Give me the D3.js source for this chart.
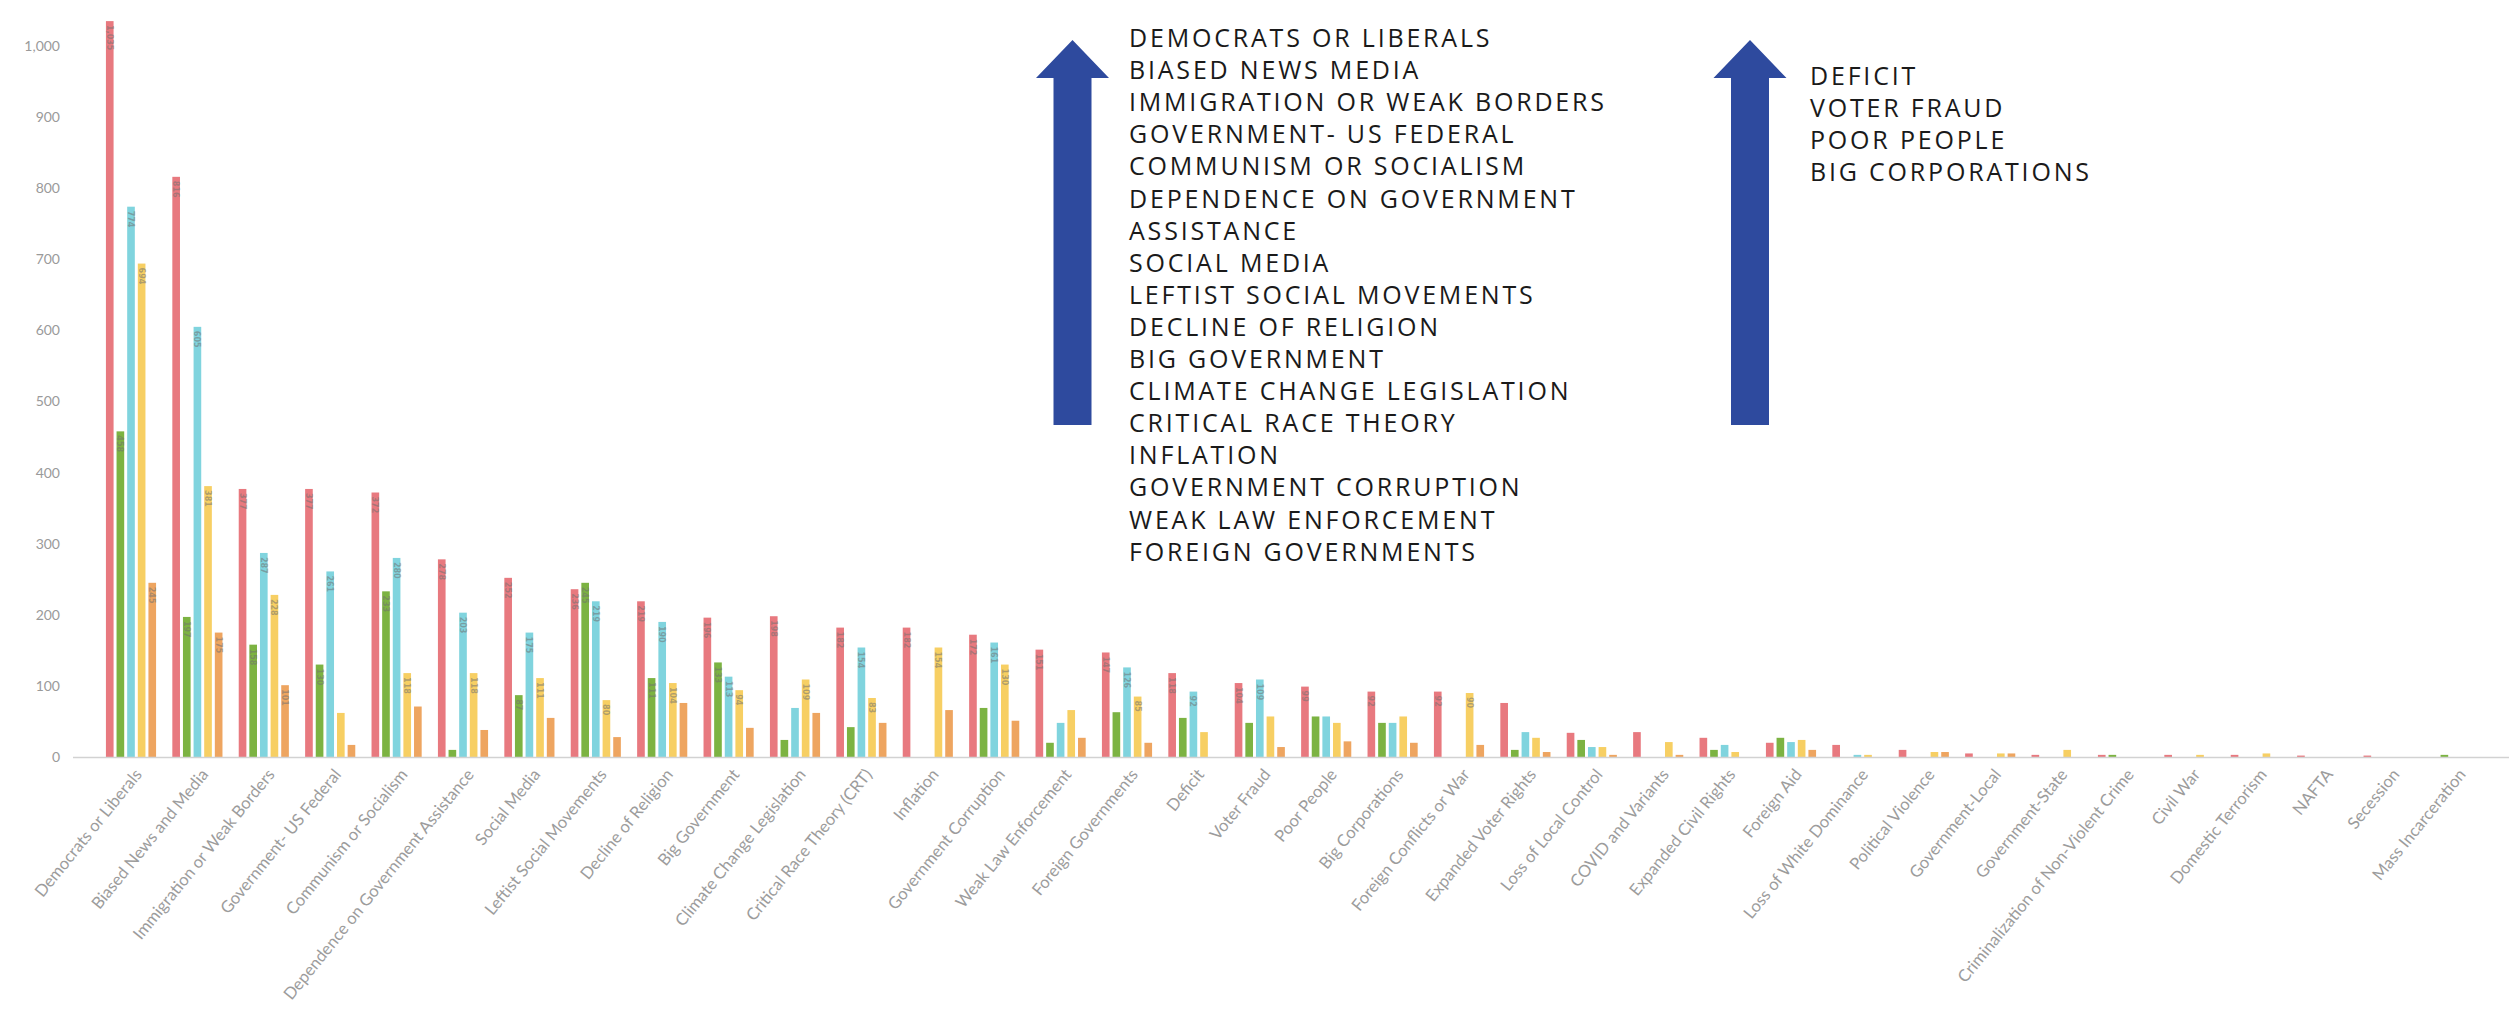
<!DOCTYPE html>
<html>
<head>
<meta charset="utf-8">
<script src="https://cdn.jsdelivr.net/npm/d3@7"></script>
<style>
  html, body { margin: 0; padding: 0; background: #ffffff; }
  svg { display: block; }
</style>
</head>
<body>
<script>
// ---------- DATA ----------
const categories = [
  "Democrats or Liberals", "Biased News and Media", "Immigration or Weak Borders",
  "Government- US Federal", "Communism or Socialism", "Dependence on Government Assistance",
  "Social Media", "Leftist Social Movements", "Decline of Religion", "Big Government",
  "Climate Change Legislation", "Critical Race Theory (CRT)", "Inflation",
  "Government Corruption", "Weak Law Enforcement", "Foreign Governments", "Deficit",
  "Voter Fraud", "Poor People", "Big Corporations", "Foreign Conflicts or War",
  "Expanded Voter Rights", "Loss of Local Control", "COVID and Variants",
  "Expanded Civil Rights", "Foreign Aid", "Loss of White Dominance", "Political Violence",
  "Government-Local", "Government-State", "Criminalization of Non-Violent Crime",
  "Civil War", "Domestic Terrorism", "NAFTA", "Secession", "Mass Incarceration"
];
const seriesNames = ["Series 1", "Series 2", "Series 3", "Series 4", "Series 5"];
const series1 = [1035, 816, 377, 377, 372, 278, 252, 236, 219, 196, 198, 182, 182, 172, 151, 147, 118, 104, 99, 92, 92, 76, 34, 35, 27, 20, 17, 10, 5, 3, 3, 3, 3, 2, 2, 0];
const series2 = [458, 197, 158, 130, 233, 10, 87, 245, 111, 133, 24, 42, 0, 69, 20, 63, 55, 48, 57, 48, 0, 10, 24, 0, 10, 27, 0, 0, 0, 0, 3, 0, 0, 0, 0, 3];
const series3 = [774, 605, 287, 261, 280, 203, 175, 219, 190, 113, 69, 154, 0, 161, 48, 126, 92, 109, 57, 48, 0, 35, 14, 0, 17, 21, 3, 0, 0, 0, 0, 0, 0, 0, 0, 0];
const series4 = [694, 381, 228, 62, 118, 118, 111, 80, 104, 94, 109, 83, 154, 130, 66, 85, 35, 57, 48, 57, 90, 27, 14, 21, 7, 24, 3, 7, 5, 10, 0, 3, 5, 0, 0, 0];
const series5 = [245, 175, 101, 17, 71, 38, 55, 28, 76, 41, 62, 48, 66, 51, 27, 20, 0, 14, 22, 20, 17, 7, 3, 3, 0, 10, 0, 7, 5, 0, 0, 0, 0, 0, 0, 0];
const yTicks = [0, 100, 200, 300, 400, 500, 600, 700, 800, 900, 1000];
const noteLeft = [
  "DEMOCRATS OR LIBERALS", "BIASED NEWS MEDIA", "IMMIGRATION OR WEAK BORDERS",
  "GOVERNMENT- US FEDERAL", "COMMUNISM OR SOCIALISM", "DEPENDENCE ON GOVERNMENT",
  "ASSISTANCE", "SOCIAL MEDIA", "LEFTIST SOCIAL MOVEMENTS", "DECLINE OF RELIGION",
  "BIG GOVERNMENT", "CLIMATE CHANGE LEGISLATION", "CRITICAL RACE THEORY", "INFLATION",
  "GOVERNMENT CORRUPTION", "WEAK LAW ENFORCEMENT", "FOREIGN GOVERNMENTS"
];
const noteRight = ["DEFICIT", "VOTER FRAUD", "POOR PEOPLE", "BIG CORPORATIONS"];

// ---------- STYLE ----------
const W = 2509, H = 1009;
const colors = ["#e8797f", "#7cb342", "#80d4de", "#f7cf63", "#eea560"];
const allSeries = [series1, series2, series3, series4, series5];

const svg = d3.select("body").append("svg").attr("width", W).attr("height", H);

const x0 = d3.scaleBand().domain(categories).range([97.8, 2488.2])
  .paddingInner(0.2).paddingOuter(0.1);
const x1 = d3.scaleBand().domain(seriesNames).range([0, x0.bandwidth()])
  .paddingInner(0.28).paddingOuter(0.14);
const y = d3.scaleLinear().domain([0, 1000]).range([757, 46]);
const color = d3.scaleOrdinal().domain(seriesNames).range(colors);

// y axis
const yAxis = svg.append("g").attr("transform", "translate(60,0)")
  .call(d3.axisLeft(y).tickValues(yTicks).tickFormat(d3.format(",")).tickSize(0).tickPadding(0));
yAxis.select(".domain").remove();
yAxis.selectAll("text").attr("font-family", "Lato, 'Open Sans', sans-serif")
  .attr("font-size", 14).attr("fill", "#9a9a9a");

// bars
const rows = categories.map((c, i) => ({ cat: c, vals: seriesNames.map((s, j) => ({ s, v: allSeries[j][i] })) }));
const grp = svg.append("g").selectAll("g").data(rows).join("g")
  .attr("transform", d => `translate(${x0(d.cat)},0)`);
grp.selectAll("rect").data(d => d.vals).join("rect")
  .attr("x", d => x1(d.s))
  .attr("width", x1.bandwidth())
  .attr("y", d => y(d.v))
  .attr("height", d => y(0) - y(d.v))
  .attr("fill", d => color(d.s));
// value labels inside bars
grp.selectAll("text.val").data(d => d.vals.filter(v => v.v >= 80)).join("text")
  .attr("class", "val")
  .attr("transform", d => `translate(${x1(d.s) + x1.bandwidth() / 2 - 3},${y(d.v) + 4}) rotate(90)`)
  .attr("font-family", "'DejaVu Sans', sans-serif")
  .attr("font-size", 8)
  .attr("font-weight", "bold")
  .attr("fill", "#707070")
  .attr("fill-opacity", 0.55)
  .text(d => d3.format(",")(d.v));

// x axis line
svg.append("line").attr("x1", 73).attr("x2", W).attr("y1", y(0) + 0.5).attr("y2", y(0) + 0.5)
  .attr("stroke", "#d2d2d2").attr("stroke-width", 1.5);
const xAxis = svg.append("g").attr("transform", `translate(0,${y(0)})`)
  .call(d3.axisBottom(x0).tickSize(0));
xAxis.select(".domain").remove();
xAxis.selectAll("text")
  .attr("x", 0).attr("y", 0).attr("dy", "0.75em")
  .attr("transform", "translate(2,10) rotate(-51)")
  .attr("text-anchor", "end")
  .attr("font-family", "Lato, 'Open Sans', sans-serif")
  .attr("font-size", 16.6)
  .attr("fill", "#9c9c9c");

// arrows
function arrow(cx) {
  const p = d3.path();
  p.moveTo(cx, 40); p.lineTo(cx + 36.5, 78); p.lineTo(cx + 19, 78); p.lineTo(cx + 19, 425);
  p.lineTo(cx - 19, 425); p.lineTo(cx - 19, 78); p.lineTo(cx - 36.5, 78); p.closePath();
  svg.append("path").attr("d", p.toString()).attr("fill", "#2e4a9e");
}
arrow(1072.5);
arrow(1750);

// annotation texts
function note(lines, x, y0) {
  return svg.append("g").selectAll("text").data(lines).join("text")
    .attr("x", x).attr("y", (d, i) => y0 + i * 32.1)
    .attr("font-family", "'Open Sans', 'Noto Sans', sans-serif")
    .attr("font-size", 25)
    .attr("fill", "#1a1a1a")
    .text(d => d);
}
const t1 = note(noteLeft, 1129, 47);
const t2 = note(noteRight, 1810, 85);
// fit letter spacing so the widest line matches the reference width
const ref = t1.filter(d => d === "IMMIGRATION OR WEAK BORDERS").node();
const w = ref.getComputedTextLength();
const ls = (475 - w) / ("IMMIGRATION OR WEAK BORDERS".length - 1);
t1.attr("letter-spacing", ls);
t2.attr("letter-spacing", ls);
</script>
</body>
</html>
